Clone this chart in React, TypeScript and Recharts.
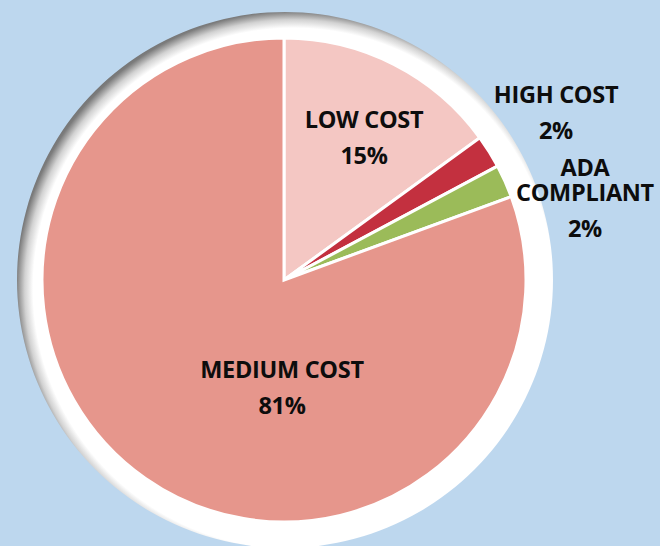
import { PieChart, Pie, Cell } from "recharts";

const categories = ["LOW COST", "HIGH COST", "ADA COMPLIANT", "MEDIUM COST"];
const shares = [15.0, 2.2, 2.2, 80.6];
const colors = ["#F4C7C3", "#C3303F", "#9BBB59", "#E6968C"];

const data = categories.map((name, i) => ({ name, value: shares[i] }));
const ringData = [{ name: "ring", value: 1 }];

// where Excel put each label, relative to the pie centre
const labelLayout = [
  { dx: 80, dy: -152, wrap: false },
  { dx: 272, dy: -177, wrap: false },
  { dx: 301, dy: -104, wrap: true },
  { dx: -2, dy: 98, wrap: false },
];

const CX = 284;
const CY = 280;

function renderLabel(props: any) {
  const { cx, cy, index, percent, name } = props;
  const pos = labelLayout[index];
  const lines: string[] = pos.wrap ? name.split(" ") : [name];
  const x = cx + pos.dx;
  const y0 = cy + pos.dy;
  return (
    <text
      key={`lbl-${index}`}
      x={x}
      y={y0}
      textAnchor="middle"
      fill="#0d0d0d"
      style={{ fontFamily: "'Open Sans', sans-serif", fontWeight: 700, fontSize: 23.5, letterSpacing: -0.3 }}
    >
      {lines.map((l, i) => (
        <tspan key={i} x={x} y={y0 + i * 25}>
          {l}
        </tspan>
      ))}
      <tspan x={x} y={y0 + (lines.length - 1) * 25 + 36}>
        {`${Math.round(percent * 100)}%`}
      </tspan>
    </text>
  );
}

export default function App() {
  return (
    <div
      style={{
        position: "absolute",
        left: 0,
        top: 0,
        width: 660,
        height: 546,
        background: "#BDD7EE",
        overflow: "hidden",
      }}
    >
      <PieChart width={660} height={546} margin={{ top: 0, right: 0, bottom: 0, left: 0 }}>
        <defs>
          <radialGradient id="bevel" gradientUnits="userSpaceOnUse" cx={CX + 9.5} cy={CY + 8.5} r={280}>
            <stop offset="0" stopColor="#ffffff" />
            <stop offset="0.93" stopColor="#ffffff" />
            <stop offset="0.96" stopColor="#d2d2d2" />
            <stop offset="0.99" stopColor="#7c7c7c" />
            <stop offset="1" stopColor="#767676" />
          </radialGradient>
        </defs>
        <Pie
          data={ringData}
          dataKey="value"
          cx={CX + 1}
          cy={CY}
          outerRadius={268}
          startAngle={90}
          endAngle={-270}
          stroke="none"
          fill="url(#bevel)"
          isAnimationActive={false}
        />
        <Pie
          data={data}
          dataKey="value"
          nameKey="name"
          cx={CX}
          cy={CY}
          outerRadius={242}
          startAngle={90}
          endAngle={-270}
          stroke="#ffffff"
          strokeWidth={3}
          label={renderLabel}
          labelLine={false}
          isAnimationActive={false}
        >
          {data.map((d, i) => (
            <Cell key={d.name} fill={colors[i]} />
          ))}
        </Pie>
      </PieChart>
    </div>
  );
}
